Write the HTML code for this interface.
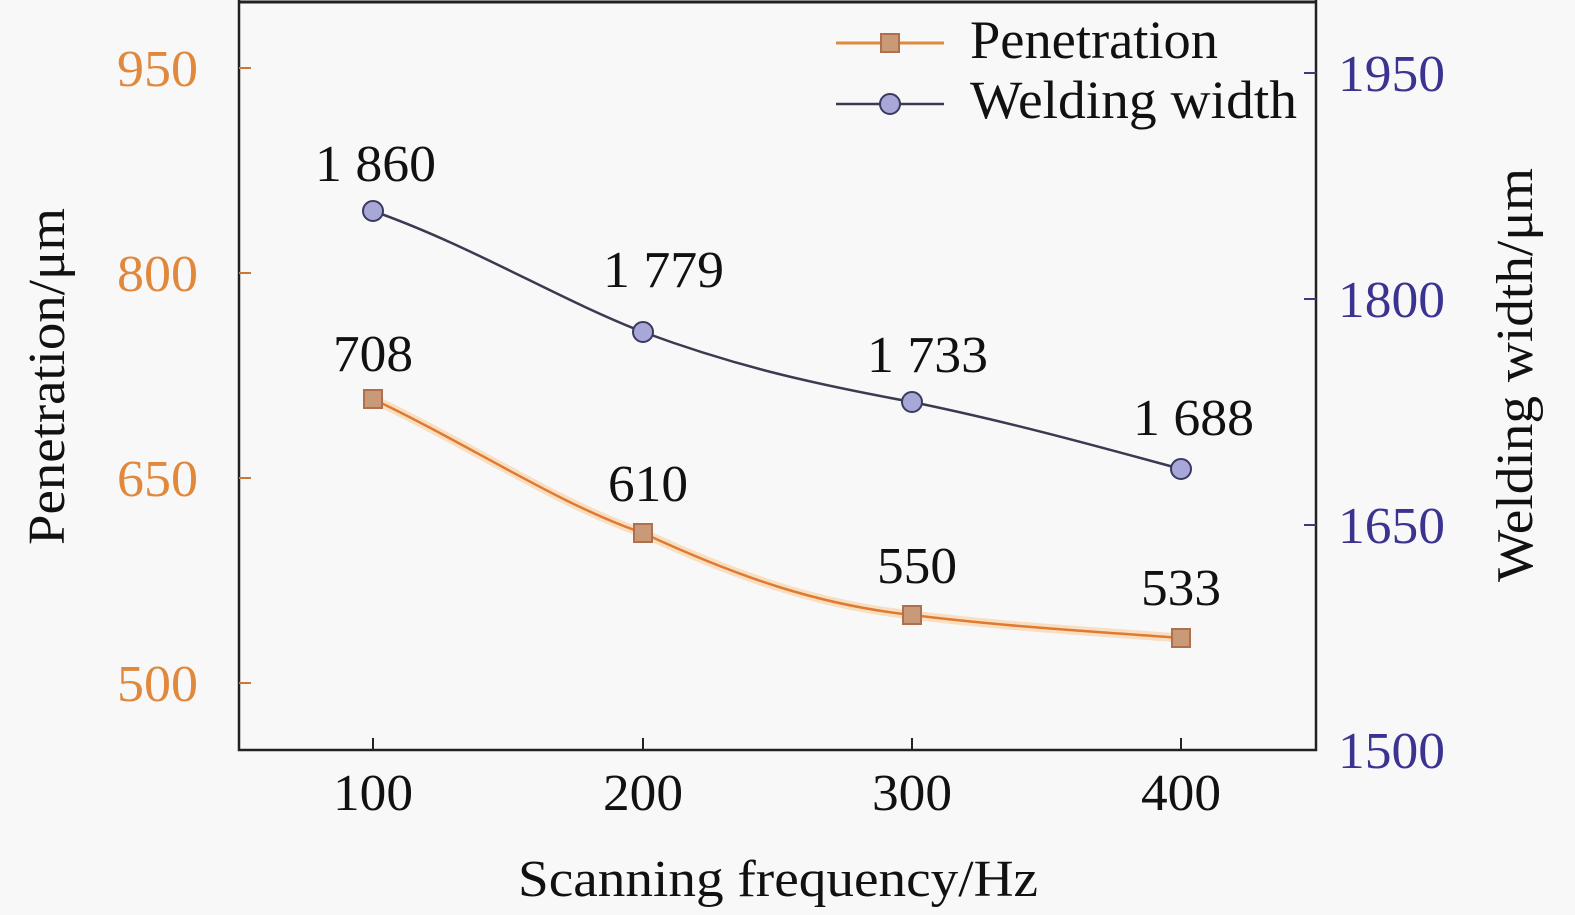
<!DOCTYPE html>
<html><head><meta charset="utf-8"><style>
html,body{margin:0;padding:0;background:#f8f8f8;}
svg{display:block;font-family:"Liberation Serif",serif;}
</style></head><body>
<svg width="1575" height="915" viewBox="0 0 1575 915" xmlns="http://www.w3.org/2000/svg">
<rect width="1575" height="915" fill="#f8f8f8"/>
<path d="M239 0 V750 H1316 V0" fill="none" stroke="#222" stroke-width="2.5"/>
<line x1="239" y1="2" x2="1316" y2="2" stroke="#222" stroke-width="3"/>
<g stroke="#c8783a" stroke-width="2">
<line x1="239" y1="68" x2="251" y2="68"/><line x1="239" y1="273" x2="251" y2="273"/>
<line x1="239" y1="478" x2="251" y2="478"/><line x1="239" y1="683" x2="251" y2="683"/>
</g>
<g stroke="#3a3a80" stroke-width="2">
<line x1="1304" y1="73" x2="1316" y2="73"/><line x1="1304" y1="299" x2="1316" y2="299"/>
<line x1="1304" y1="525" x2="1316" y2="525"/>
</g>
<g stroke="#222" stroke-width="2">
<line x1="373" y1="750" x2="373" y2="738"/><line x1="643" y1="750" x2="643" y2="738"/>
<line x1="912" y1="750" x2="912" y2="738"/><line x1="1181" y1="750" x2="1181" y2="738"/>
</g>
<g font-size="52" fill="#e0883c" lengthAdjust="spacingAndGlyphs">
<text x="117" y="86" textLength="81" lengthAdjust="spacingAndGlyphs">950</text>
<text x="117" y="291" textLength="81" lengthAdjust="spacingAndGlyphs">800</text>
<text x="117" y="496" textLength="81" lengthAdjust="spacingAndGlyphs">650</text>
<text x="117" y="701" textLength="81" lengthAdjust="spacingAndGlyphs">500</text>
</g>
<g font-size="52" fill="#3a3490">
<text x="1338" y="91" textLength="107" lengthAdjust="spacingAndGlyphs">1950</text>
<text x="1338" y="317" textLength="107" lengthAdjust="spacingAndGlyphs">1800</text>
<text x="1338" y="543" textLength="107" lengthAdjust="spacingAndGlyphs">1650</text>
<text x="1338" y="768" textLength="107" lengthAdjust="spacingAndGlyphs">1500</text>
</g>
<g font-size="52" fill="#111">
<text x="333" y="810" textLength="80" lengthAdjust="spacingAndGlyphs">100</text>
<text x="603" y="810" textLength="80" lengthAdjust="spacingAndGlyphs">200</text>
<text x="872" y="810" textLength="80" lengthAdjust="spacingAndGlyphs">300</text>
<text x="1141" y="810" textLength="80" lengthAdjust="spacingAndGlyphs">400</text>
<text x="518" y="896" textLength="520" lengthAdjust="spacingAndGlyphs">Scanning frequency/Hz</text>
</g>
<text font-size="52" fill="#111" textLength="337" lengthAdjust="spacingAndGlyphs" transform="translate(64,545) rotate(-90)">Penetration/μm</text>
<text font-size="52" fill="#111" textLength="414" lengthAdjust="spacingAndGlyphs" transform="translate(1532,582) rotate(-90)">Welding width/μm</text>
<path d="M373 399 C470 445 560 505 643 533 C740 578 820 605 912 615 C1010 627 1100 632 1181 638" fill="none" stroke="#f8c080" stroke-width="9" opacity="0.45"/>
<path d="M373 399 C470 445 560 505 643 533 C740 578 820 605 912 615 C1010 627 1100 632 1181 638" fill="none" stroke="#e07a30" stroke-width="2.5"/>
<path d="M373 211 C470 245 560 300 643 332 C740 368 820 385 912 402 C1010 422 1100 447 1181 469" fill="none" stroke="#3a3a50" stroke-width="2.5"/>
<g fill="#c89a78" stroke="#b07050" stroke-width="2">
<rect x="364" y="390" width="18" height="18"/><rect x="634" y="524" width="18" height="18"/>
<rect x="903" y="606" width="18" height="18"/><rect x="1172" y="629" width="18" height="18"/>
</g>
<g fill="#a8a8d8" stroke="#3a3a60" stroke-width="2">
<circle cx="373" cy="211" r="10"/><circle cx="643" cy="332" r="10"/>
<circle cx="912" cy="402" r="10"/><circle cx="1181" cy="469" r="10"/>
</g>
<g font-size="52" fill="#111">
<text x="315" y="181" textLength="121" lengthAdjust="spacingAndGlyphs">1 860</text>
<text x="603" y="287" textLength="121" lengthAdjust="spacingAndGlyphs">1 779</text>
<text x="867" y="372" textLength="121" lengthAdjust="spacingAndGlyphs">1 733</text>
<text x="1133" y="435" textLength="121" lengthAdjust="spacingAndGlyphs">1 688</text>
<text x="333" y="371" textLength="80" lengthAdjust="spacingAndGlyphs">708</text>
<text x="608" y="501" textLength="80" lengthAdjust="spacingAndGlyphs">610</text>
<text x="877" y="583" textLength="80" lengthAdjust="spacingAndGlyphs">550</text>
<text x="1141" y="605" textLength="80" lengthAdjust="spacingAndGlyphs">533</text>
</g>
<line x1="836" y1="43" x2="944" y2="43" stroke="#e08a40" stroke-width="3"/>
<rect x="881" y="34" width="18" height="18" fill="#c89a78" stroke="#b07050" stroke-width="2"/>
<line x1="836" y1="104" x2="944" y2="104" stroke="#3a3a50" stroke-width="2.5"/>
<circle cx="890" cy="104" r="10" fill="#a8a8d8" stroke="#3a3a60" stroke-width="2"/>
<g font-size="54" fill="#111">
<text x="970" y="58" textLength="248" lengthAdjust="spacingAndGlyphs">Penetration</text>
<text x="970" y="118" textLength="327" lengthAdjust="spacingAndGlyphs">Welding width</text>
</g>
</svg>
</body></html>
